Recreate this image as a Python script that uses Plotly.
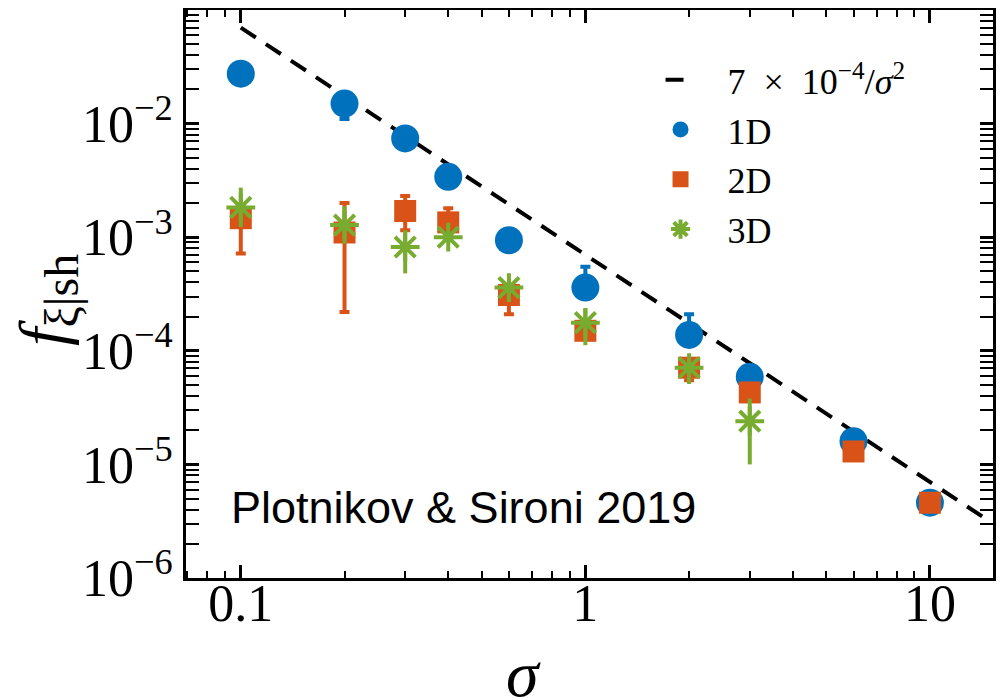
import plotly.graph_objects as go

sigma = [0.1, 0.2, 0.3, 0.4, 0.6, 1, 2, 3, 6, 10]

f1d = [0.0275, 0.015, 0.0074, 0.0034, 0.00094, 0.00036, 0.000138, 5.9e-5, 1.6e-5, 4.6e-6]
f1d_up = [0.0, 0.0, 0.0, 0.0, 0.0, 0.00019, 7.2e-5, 0.0, 0.0, 0.0]
f1d_dn = [0.0, 0.004, 0.0, 0.0, 0.00018, 0.0, 0.0, 1.5e-5, 0.0, 0.0]

f2d = [0.00147, 0.0011, 0.0017, 0.00135, 0.00031, 0.00015, 7.1e-5, 4.3e-5, 1.3e-5, 4.6e-6]
f2d_up = [0.0004, 0.0009, 0.0006, 0.00045, 0.0, 0.0, 0.0, 0.0, 0.0, 0.0]
f2d_dn = [0.00075, 0.00088, 0.00055, 0.0002, 0.0001, 0.0, 1.6e-5, 0.0, 0.0, 0.0]

sigma3 = [0.1, 0.2, 0.3, 0.4, 0.6, 1, 2, 3]
f3d = [0.00183, 0.00128, 0.00082, 0.001, 0.00036, 0.000177, 7.1e-5, 2.4e-5]
f3d_up = [0.0009, 0.0006, 0.00033, 0.0001, 5e-5, 6e-5, 1.8e-5, 1.4e-5]
f3d_dn = [0.0006, 0.0004, 0.00034, 0.0001, 5e-5, 6.5e-5, 2e-5, 1.4e-5]

fit_sigma = [0.1, 15.0]
fit_coef = 7e-4

x_range_log = [-1.159, 1.183]
x_major = [0.1, 1, 10]
x_major_text = ["0.1", "1", "10"]
y_major = [1e-6, 1e-5, 1e-4, 1e-3, 1e-2]
y_major_text = ["10<sup>−6</sup>", "10<sup>−5</sup>", "10<sup>−4</sup>",
                "10<sup>−3</sup>", "10<sup>−2</sup>"]
x_minor = [m * d for d in [0.01, 0.1, 1, 10] for m in range(2, 10)]
y_minor = [m * d for d in [1e-6, 1e-5, 1e-4, 1e-3, 1e-2] for m in range(2, 10)]

BLUE = "#0072BD"
ORANGE = "#D95319"
GREEN = "#77AC30"
SP = "\u2002\u2005"

fig = go.Figure()

fig.add_trace(go.Scatter(
    x=fit_sigma, y=[fit_coef / s**2 for s in fit_sigma], mode="lines",
    line=dict(color="black", width=4, dash="18px,12px"),
    name=SP + "7\u2002×\u200210<sup>−4</sup>/<i>σ</i><sup>2</sup>"))

fig.add_trace(go.Scatter(
    x=sigma, y=f1d, mode="markers", name=SP + "1D",
    marker=dict(symbol="circle", size=28, color=BLUE),
    error_y=dict(type="data", symmetric=False, array=f1d_up, arrayminus=f1d_dn,
                 color=BLUE, thickness=4, width=5)))

fig.add_trace(go.Scatter(
    x=sigma, y=f2d, mode="markers", name=SP + "2D",
    marker=dict(symbol="square", size=22, color=ORANGE),
    error_y=dict(type="data", symmetric=False, array=f2d_up, arrayminus=f2d_dn,
                 color=ORANGE, thickness=4, width=5)))

fig.add_trace(go.Scatter(
    x=sigma3, y=f3d, mode="markers", name=SP + "3D",
    marker=dict(symbol="asterisk-open", size=24, color=GREEN,
                line=dict(color=GREEN, width=4)),
    error_y=dict(type="data", symmetric=False, array=f3d_up, arrayminus=f3d_dn,
                 color=GREEN, thickness=4, width=0)))

# invisible carrier trace so the label-only x axis (x2) is rendered
fig.add_trace(go.Scatter(
    x=fit_sigma, y=[fit_coef / s**2 for s in fit_sigma], xaxis="x2",
    mode="lines", line=dict(width=0, color="rgba(0,0,0,0)"),
    showlegend=False, hoverinfo="skip"))

SERIF = "Liberation Serif, Times New Roman"

fig.add_annotation(x=0.053, y=0.125, xref="paper", yref="paper",
                   xanchor="left", yanchor="middle",
                   text="Plotnikov & Sironi 2019", showarrow=False,
                   font=dict(family="Liberation Sans, Arial", size=45, color="black"))

# axis titles
fig.add_annotation(x=0.4176, y=-0.168, xref="paper", yref="paper",
                   xanchor="center", yanchor="middle", showarrow=False,
                   text="<i>σ</i>", font=dict(family=SERIF, size=66, color="black"))
fig.add_annotation(x=-0.172, y=0.49, xref="paper", yref="paper",
                   xanchor="center", yanchor="middle", showarrow=False, textangle=-90,
                   text="<i>f</i><sub><span style=\"font-size:48px\">ξ|sh</span></sub>",
                   font=dict(family=SERIF, size=66, color="black"))

axis_common = dict(
    type="log", showline=True, linecolor="black", linewidth=3, mirror="allticks",
    ticks="inside", ticklen=13, tickwidth=3, tickcolor="black", showgrid=False,
    zeroline=False, automargin=False,
)

fig.update_layout(
    xaxis=dict(**axis_common, range=x_range_log,
               tickvals=x_major, ticktext=x_major_text, showticklabels=False,
               minor=dict(tickmode="array", tickvals=x_minor, ticks="inside",
                          ticklen=7, tickwidth=2, tickcolor="black", showgrid=False)),
    yaxis=dict(**axis_common, range=[-6, -1.0],
               tickvals=y_major, ticktext=y_major_text,
               tickfont=dict(family=SERIF, size=52, color="black"),
               minor=dict(tickmode="array", tickvals=y_minor, ticks="inside",
                          ticklen=7, tickwidth=2, tickcolor="black", showgrid=False)),
    # second x axis only carries the tick labels, sitting closer to the frame
    xaxis2=dict(type="log", range=x_range_log, overlaying="x", anchor="free",
                position=0.018, side="bottom", showline=False, ticks="",
                showgrid=False, zeroline=False, automargin=False,
                tickmode="array", tickvals=x_major, ticktext=x_major_text,
                tickfont=dict(family=SERIF, size=52, color="black")),
)

fig.update_layout(
    width=1004, height=700,
    margin=dict(l=178, r=19, t=2, b=130),
    paper_bgcolor="white", plot_bgcolor="white",
    showlegend=True,
    legend=dict(x=0.588, y=0.93, xanchor="left", yanchor="top",
                bgcolor="rgba(0,0,0,0)", borderwidth=0,
                font=dict(family=SERIF, size=36, color="black"),
                itemsizing="trace", tracegroupgap=0),
)

fig.write_html("out.html")
